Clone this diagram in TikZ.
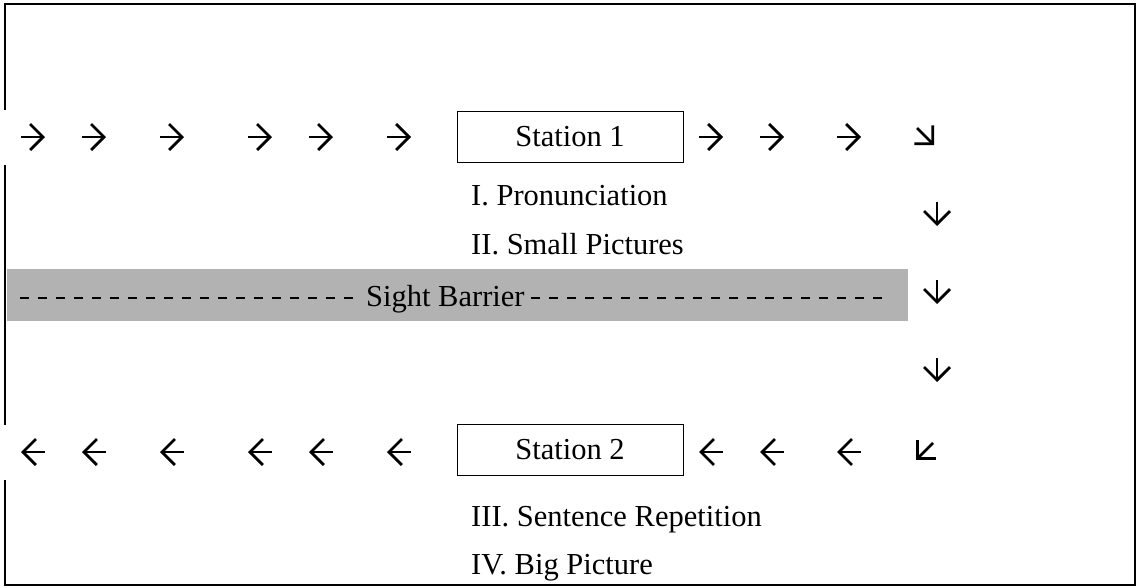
\documentclass[tikz,border=0pt]{standalone}
\usepackage{fontspec}
\setmainfont{Liberation Serif}
\usetikzlibrary{arrows.meta}
\tikzset{
  arr/.style={line width=2.7pt, -{Straight Barb[length=13pt,width=26pt]}},
  stationbox/.style={draw, line width=1pt, minimum width=226pt, minimum height=51pt, inner sep=0pt, font=\fontsize{30.5}{36}\selectfont},
  lbl/.style={anchor=base west, inner sep=0pt, font=\fontsize{30.5}{36}\selectfont},
  barrier/.style={fill=black!30, draw=none},
  dashline/.style={line width=1.6pt, dash pattern=on 9pt off 9pt},
  frame/.style={line width=1.8pt}
}
\begin{document}
\begin{tikzpicture}[x=1pt,y=-1pt]
\useasboundingbox (0,0) rectangle (1137,587);
% frame with gaps on the left side
\draw[frame] (5,110) -- (5,4) -- (1135,4) -- (1135,585) -- (5,585) -- (5,480);
\draw[frame] (5,165) -- (5,425);
% sight barrier band
\fill[barrier] (7,269) rectangle (908,321);
\node[lbl] (sb) at (366,306) {Sight Barrier};
\draw[dashline] (20,298) -- (360,298);
\draw[dashline] (531,298) -- (890,298);
% stations
\node[stationbox] (s1) at (570,137) {Station 1};
\node[stationbox] (s2) at (570,450) {Station 2};
\node[lbl] (t1) at (471,205) {I. Pronunciation};
\node[lbl] (t2) at (471,254) {II. Small Pictures};
\node[lbl] (t3) at (471,526) {III. Sentence Repetition};
\node[lbl] (t4) at (471,574) {IV. Big Picture};
% top row arrows
\foreach \cx in {33,94,172,260,321,399,711,772,849}
  \draw[arr] (\cx-12,137) -- (\cx+12,137);
\draw[arr] (917,128) -- (934,145);
% right column arrows
\foreach \cy in {214,292,370}
  \draw[arr] (937,\cy-12) -- (937,\cy+12);
\draw[arr] (933,443) -- (916,460);
% bottom row arrows
\foreach \cx in {33,94,172,260,321,399,711,772,849}
  \draw[arr] (\cx+12,452) -- (\cx-12,452);
\end{tikzpicture}
\end{document}
